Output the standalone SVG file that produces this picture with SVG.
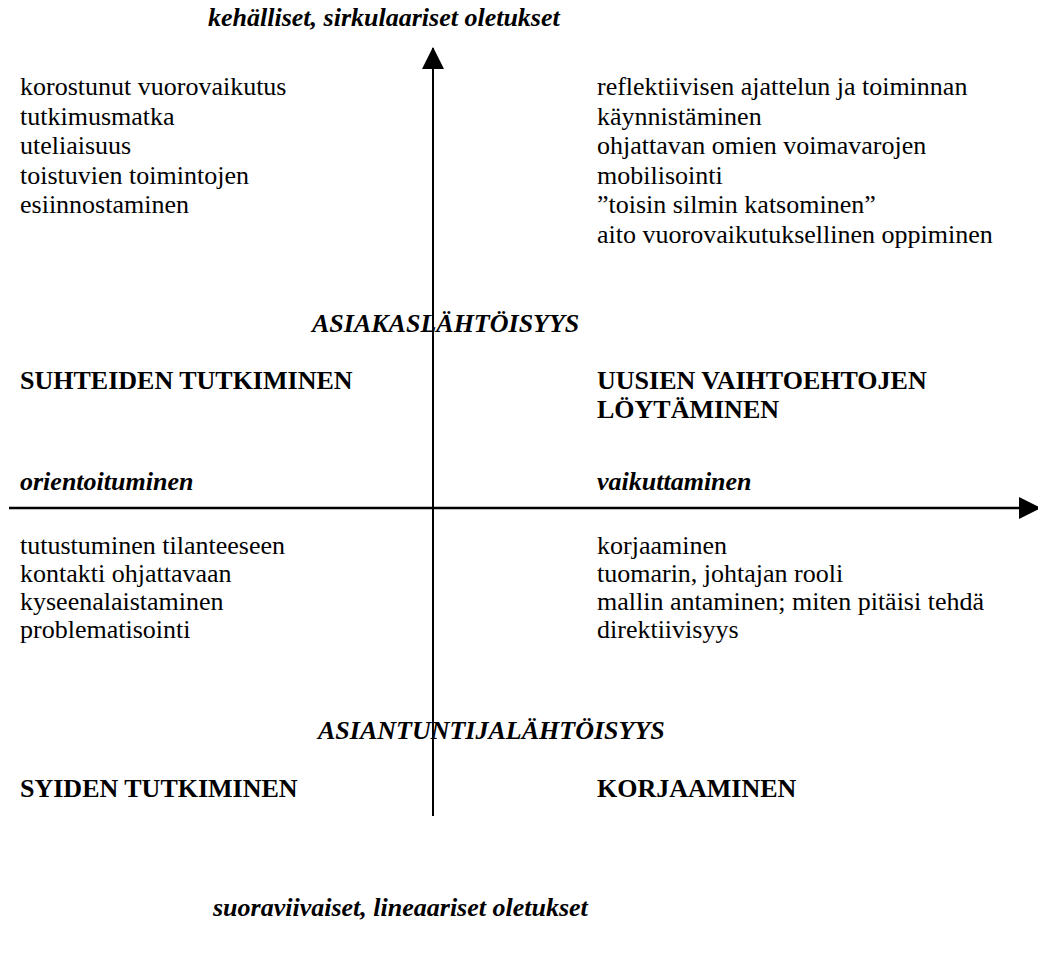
<svg xmlns="http://www.w3.org/2000/svg" width="1038" height="955" viewBox="0 0 1038 955">
  <style>
    text { font-family: "Liberation Serif", "Times New Roman", serif; font-size: 26px; fill: #000; }
    .bi { font-weight: bold; font-style: italic; }
    .b { font-weight: bold; }
    .axis { stroke: #000; fill: none; }
  </style>
  <defs>
    <marker id="head" markerUnits="userSpaceOnUse" markerWidth="22" markerHeight="22" refX="21" refY="11" orient="auto">
      <path d="M0,0 L22,11 L0,22 Z" fill="#000"/>
    </marker>
  </defs>
  <rect width="1038" height="955" fill="#fff"/>

  <!-- axes -->
  <g id="connectors">
    <line class="axis" x1="433" y1="816" x2="433" y2="48" stroke-width="2" marker-end="url(#head)"/>
    <line class="axis" x1="9" y1="508" x2="1040" y2="508" stroke-width="2.5" marker-end="url(#head)"/>
  </g>

  <!-- axis end labels -->
  <g id="top-label"><text class="bi" x="208" y="26">kehälliset, sirkulaariset oletukset</text></g>
  <g id="bottom-label"><text class="bi" x="213" y="916">suoraviivaiset, lineaariset oletukset</text></g>
  <g id="left-label"><text class="bi" x="20" y="490">orientoituminen</text></g>
  <g id="right-label"><text class="bi" x="597" y="490">vaikuttaminen</text></g>

  <!-- upper left quadrant -->
  <g id="q1-items">
    <text x="20" y="95">korostunut vuorovaikutus</text>
    <text x="20" y="125">tutkimusmatka</text>
    <text x="20" y="154">uteliaisuus</text>
    <text x="20" y="184">toistuvien toimintojen</text>
    <text x="20" y="213">esiinnostaminen</text>
  </g>
  <!-- upper right quadrant -->
  <g id="q2-items">
    <text x="597" y="95">reflektiivisen ajattelun ja toiminnan</text>
    <text x="597" y="125">käynnistäminen</text>
    <text x="597" y="154">ohjattavan omien voimavarojen</text>
    <text x="597" y="184">mobilisointi</text>
    <text x="597" y="213">”toisin silmin katsominen”</text>
    <text x="597" y="243">aito vuorovaikutuksellinen oppiminen</text>
  </g>

  <g id="upper-center"><text class="bi" x="312" y="332">ASIAKASLÄHTÖISYYS</text></g>
  <g id="q1-title"><text class="b" x="20" y="389">SUHTEIDEN TUTKIMINEN</text></g>
  <g id="q2-title">
    <text class="b" x="597" y="389">UUSIEN VAIHTOEHTOJEN</text>
    <text class="b" x="597" y="418">LÖYTÄMINEN</text>
  </g>

  <!-- lower left quadrant -->
  <g id="q3-items">
    <text x="20" y="554">tutustuminen tilanteeseen</text>
    <text x="20" y="582">kontakti ohjattavaan</text>
    <text x="20" y="610">kyseenalaistaminen</text>
    <text x="20" y="638">problematisointi</text>
  </g>
  <!-- lower right quadrant -->
  <g id="q4-items">
    <text x="597" y="554">korjaaminen</text>
    <text x="597" y="582">tuomarin, johtajan rooli</text>
    <text x="597" y="610">mallin antaminen; miten pitäisi tehdä</text>
    <text x="597" y="638">direktiivisyys</text>
  </g>

  <g id="lower-center"><text class="bi" x="318" y="739">ASIANTUNTIJALÄHTÖISYYS</text></g>
  <g id="q3-title"><text class="b" x="20" y="797">SYIDEN TUTKIMINEN</text></g>
  <g id="q4-title"><text class="b" x="597" y="797">KORJAAMINEN</text></g>
</svg>
